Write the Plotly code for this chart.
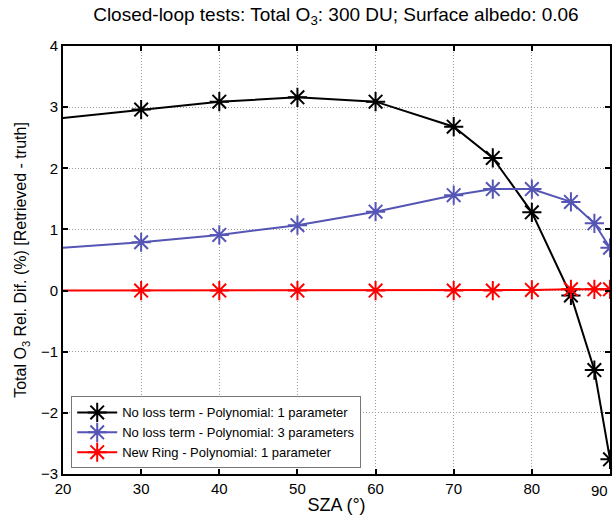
import plotly.graph_objects as go

sza_black = [10, 30, 40, 50, 60, 70, 75, 80, 85, 88, 90]
val_black = [2.69, 2.96, 3.09, 3.16, 3.09, 2.68, 2.17, 1.28, -0.08, -1.30, -2.76]

sza_blue = [10, 30, 40, 50, 60, 70, 75, 80, 85, 88, 90]
val_blue = [0.61, 0.79, 0.91, 1.07, 1.29, 1.56, 1.66, 1.66, 1.45, 1.10, 0.70]

sza_red = [10, 30, 40, 50, 60, 70, 75, 80, 85, 88, 90]
val_red = [0.0, 0.0, 0.0, 0.0, 0.0, 0.0, 0.0, 0.01, 0.02, 0.02, 0.02]

names = ["No loss term - Polynomial: 1 parameter",
         "No loss term - Polynomial: 3 parameters",
         "New Ring - Polynomial: 1 parameter"]
colors = ["#000000", "#5555b5", "#ff0000"]

x_ticks = [20, 30, 40, 50, 60, 70, 80, 90]
y_ticks = [-3, -2, -1, 0, 1, 2, 3, 4]

fig = go.Figure()
for xs, ys, nm, c in zip([sza_black, sza_blue, sza_red],
                         [val_black, val_blue, val_red], names, colors):
    fig.add_trace(go.Scatter(
        x=xs, y=ys, name=nm, mode="lines+markers",
        line=dict(color=c, width=2),
        marker=dict(symbol="asterisk-open", size=16, color=c,
                    line=dict(color=c, width=2)),
        cliponaxis=True,
    ))

font = "Liberation Sans, Arial, Helvetica, sans-serif"
axis_common = dict(
    showline=True, linecolor="black", linewidth=2, mirror="ticks",
    ticks="inside", ticklen=5, tickwidth=1.5, tickcolor="black",
    showgrid=True, gridcolor="#9a9a9a", griddash="1px,2px", gridwidth=1,
    zeroline=False, automargin=False,
    tickfont=dict(family=font, size=15, color="black"),
)

fig.update_layout(
    width=613, height=525,
    margin=dict(l=63, r=3, t=46, b=51),
    paper_bgcolor="white", plot_bgcolor="white",
    title=dict(text="Closed-loop tests: Total O<sub>3</sub>: 300 DU; Surface albedo: 0.06",
               x=0.548, xanchor="center", y=0.985, yanchor="top",
               font=dict(family=font, size=19, color="black")),
    xaxis=dict(range=[20, 90], tickvals=x_ticks[:-1],
               title=dict(text="SZA (°)", font=dict(family=font, size=18, color="black"),
                          standoff=2),
               **axis_common),
    yaxis=dict(range=[-3, 4], tickvals=y_ticks,
               ticktext=[("\u2212" + str(-v)) if v < 0 else str(v) for v in y_ticks],
               title=dict(text="Total O<sub>3</sub> Rel. Dif. (%) [Retrieved - truth]",
                          font=dict(family=font, size=16, color="black"), standoff=10),
               **axis_common),
    legend=dict(x=0.015, y=0.013, xanchor="left", yanchor="bottom",
                bgcolor="white", bordercolor="#777777", borderwidth=1,
                font=dict(family=font, size=13, color="black"),
                tracegroupgap=0, itemwidth=40),
    showlegend=True,
)

# right-edge "90" label drawn as annotation, kept inside the page
fig.add_annotation(x=x_ticks[-1], xref="x", y=0, yref="paper", yshift=-6,
                   text=str(x_ticks[-1]), showarrow=False, xanchor="right", yanchor="top",
                   font=dict(family=font, size=15, color="black"))

fig.write_html("out.html")
